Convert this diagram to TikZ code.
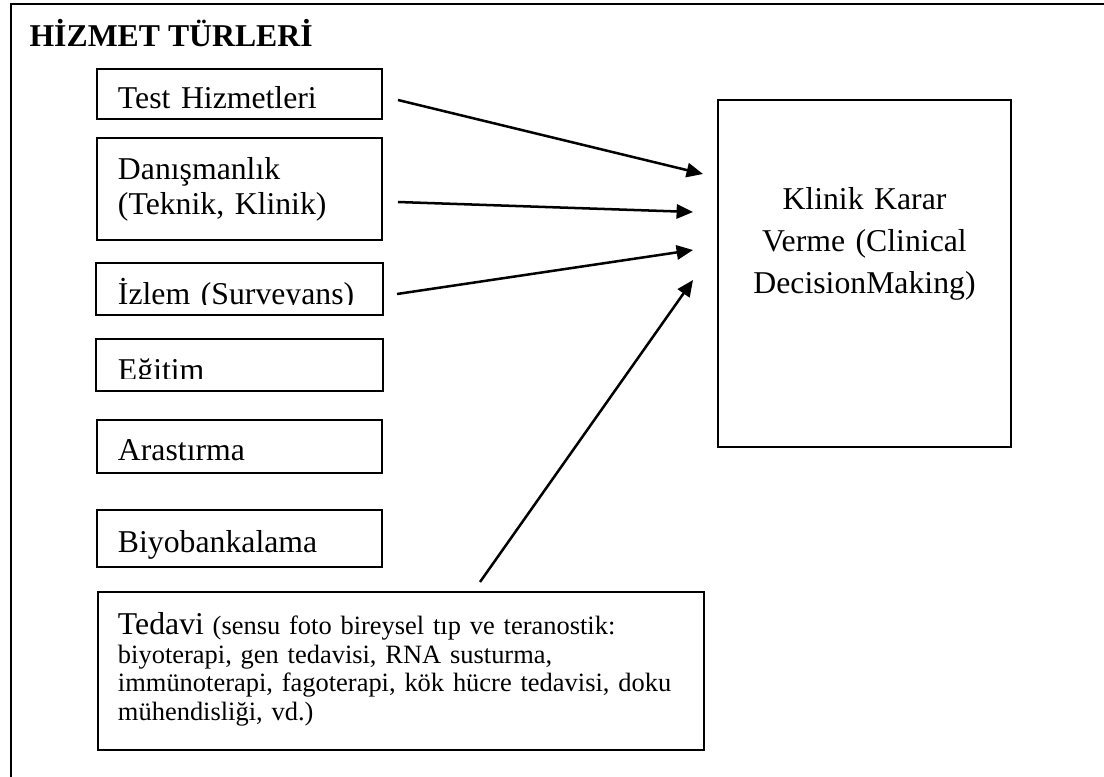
\documentclass[tikz,border=0pt]{standalone}
\usepackage{fontspec}
\setmainfont{Liberation Serif}
\usetikzlibrary{arrows.meta}
\newdimen\pxu
\pxu=0.378pt
\tikzset{
	kenar/.style={line width=0.75pt},
	hizmet/.style={draw, kenar, anchor=north west, inner xsep=21\pxu, inner ysep=0pt,
		text width=243\pxu, align=left, font=\fontsize{12}{13.5}\selectfont},
	ok/.style={line width=0.95pt, -{Triangle[length=6.2pt,width=5.4pt]}},
}
\begin{document}
\begin{tikzpicture}[x=0.378pt,y=-0.378pt]
\useasboundingbox (0,0) rectangle (1104,776);
\draw[line width=0.5pt] (1110,4) -- (11,4) -- (11,790);
\node[anchor=base west, inner sep=0pt, font=\bfseries\fontsize{12}{14}\selectfont] (baslik) at (29,46) {HİZMET TÜRLERİ};

\node[hizmet, text height=39\pxu, text depth=11\pxu] (test) at (96,68) {Test Hizmetleri};
\node[hizmet, text height=41\pxu, text depth=61\pxu] (danis) at (96,137) {Danışmanlık\\(Teknik, Klinik)};
\begin{scope}
\clip (90,263) rectangle (390,304.5);
\node[hizmet, draw=none, text height=40\pxu, text depth=10\pxu] (izlem) at (96,263) {İzlem (Surveyans)};
\end{scope}
\draw[kenar] (izlem.north west) rectangle (izlem.south east);
\begin{scope}
\clip (90,339) rectangle (390,378.5);
\node[hizmet, draw=none, text height=40.5\pxu, text depth=9.5\pxu] (egitim) at (96,339) {Eğitim};
\end{scope}
\draw[kenar] (egitim.north west) rectangle (egitim.south east);
\node[hizmet, text height=40\pxu, text depth=13\pxu] (arastirma) at (96,419) {Arastırma};
\node[hizmet, text height=42\pxu, text depth=15\pxu] (biyo) at (96,509) {Biyobankalama};
\node[hizmet, inner xsep=20\pxu, text width=566\pxu, text height=42\pxu, text depth=116\pxu,
	font=\fontsize{10}{10.96}\selectfont] (tedavi) at (97,591)
	{{\fontsize{12}{13.2}\selectfont Tedavi} (sensu foto bireysel tıp ve teranostik:\\
	biyoterapi, gen tedavisi, RNA susturma,\\
	immünoterapi, fagoterapi, kök hücre tedavisi, doku\\
	mühendisliği, vd.)};

\node[draw, kenar, anchor=north west, inner sep=0pt, text width=293\pxu, align=center,
	text height=109\pxu, text depth=238\pxu, font=\fontsize{12}{15.9}\selectfont] (klinik) at (717,99)
	{Klinik Karar\\Verme (Clinical\\DecisionMaking)};

\draw[ok] ([shift={(15,6)}]test.east) -- ([shift={(-14,-99.5)}]klinik.west);
\draw[ok] ([shift={(15,13)}]danis.east) -- ([shift={(-24,-61.5)}]klinik.west);
\draw[ok] ([shift={(14,5)}]izlem.east) -- ([shift={(-24,-23.5)}]klinik.west);
\draw[ok] ([shift={(79,-9)}]tedavi.north) -- ([shift={(-24,6.5)}]klinik.west);
\end{tikzpicture}
\end{document}
